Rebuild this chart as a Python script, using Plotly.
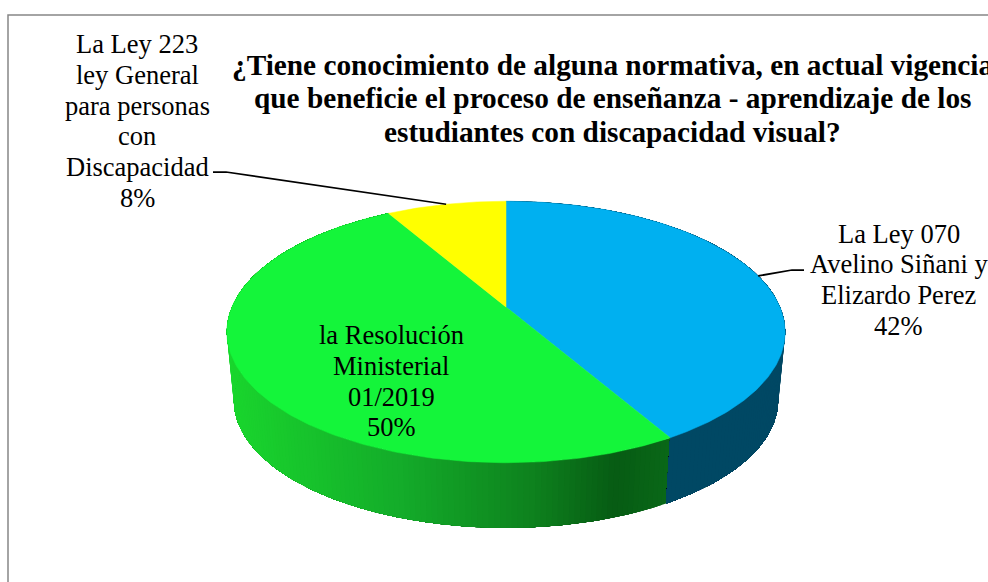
import numpy as np
import plotly.graph_objects as go

# values (slice angles fit 5, 6 and 1 answers out of 12)
slice_labels = [["La Ley 070", "Avelino Siñani y", "Elizardo Perez"],
                ["la Resolución", "Ministerial", "01/2019"],
                ["La Ley 223", "ley General", "para personas", "con", "Discapacidad"]]
slice_counts = [5, 6, 1]
slice_percents = ["42%", "50%", "8%"]
slice_colors = ["#00B0F0", "#14F53A", "#FFFF00"]
title_lines = ["¿Tiene conocimiento de alguna normativa, en actual vigencia",
               "que beneficie el proceso de enseñanza - aprendizaje de los",
               "estudiantes con discapacidad visual?"]

# plotly has no 3d pie, so project a tilted disc by hand (axes are in pixels)
CX, CY = 506, 307      # pie centre on screen
A, B, K = 274, 126, 0.191  # half width, half height, perspective
DEPTH_Y, DEPTH_SCALE = 69, 0.975  # bottom rim relative to the top rim


def rim(theta, bottom=False):
    # theta in degrees, clockwise from 12 o'clock
    t = np.radians(theta)
    u, v = np.sin(t), np.cos(t)
    d = 1 + K * v
    x, y = A * u / d, -B * v / d
    if bottom:
        return CX + DEPTH_SCALE * x, CY + DEPTH_Y + DEPTH_SCALE * y
    return CX + x, CY + y


def mix(stops, x):
    xs = [s[0] for s in stops]
    rgb = [np.interp(x, xs, [s[1][i] for s in stops]) for i in range(3)]
    return "rgb(%d,%d,%d)" % tuple(rgb)


green_wall = [(228, (26, 214, 46)), (400, (20, 172, 42)), (533, (14, 130, 30)),
              (616, (7, 92, 20)), (668, (10, 104, 24))]
blue_wall = [(0, (0, 72, 100)), (988, (0, 72, 100))]
wall_stops = [blue_wall, green_wall, None]

edges = np.cumsum([0] + slice_counts) * 360 / sum(slice_counts)

fig = go.Figure()

# side walls: each piece runs to the end of the slice and the next one paints
# over it, that way no seams show between the shades
for i in [1, 0]:
    for a in np.arange(edges[i], edges[i + 1], 1.0):
        th = np.append(np.arange(a, edges[i + 1], 1.0), edges[i + 1])
        x1, y1 = rim(th)
        x2, y2 = rim(th[::-1], bottom=True)
        colour = mix(wall_stops[i], rim(a + 0.5)[0])
        fig.add_trace(go.Scatter(x=list(x1) + list(x2), y=list(y1) + list(y2),
                                 fill="toself", fillcolor=colour, mode="lines",
                                 line=dict(color=colour, width=0),
                                 hoverinfo="skip", showlegend=False))

# top face
for i in range(len(slice_counts)):
    th = np.linspace(edges[i], edges[i + 1], 200)
    x, y = rim(th)
    fig.add_trace(go.Scatter(x=[CX] + list(x) + [CX], y=[CY] + list(y) + [CY],
                             fill="toself", fillcolor=slice_colors[i], mode="lines",
                             line=dict(color=slice_colors[i], width=0.5),
                             hoverinfo="skip", showlegend=False))

# leader lines end on the middle of their slice
mid_blue = rim((edges[0] + edges[1]) / 2)
mid_yellow = rim((edges[2] + edges[3]) / 2)
fig.add_trace(go.Scatter(x=[804, 792, mid_blue[0]], y=[270, 270, mid_blue[1]], mode="lines",
                         line=dict(color="black", width=1.75), hoverinfo="skip", showlegend=False))
fig.add_trace(go.Scatter(x=[213, 226, mid_yellow[0]], y=[172, 172, mid_yellow[1]], mode="lines",
                         line=dict(color="black", width=1.75), hoverinfo="skip", showlegend=False))

# chart frame, runs off the page on the right and at the bottom
fig.add_trace(go.Scatter(x=[8, 8, 988], y=[582, 15, 15], mode="lines",
                         line=dict(color="#868686", width=1.5), hoverinfo="skip", showlegend=False))


def text_line(text, x, y, size):
    return dict(x=x, y=y, xref="x", yref="y", text=text, showarrow=False,
                xanchor="center", yanchor="middle", align="center",
                font=dict(family="Liberation Serif", size=size, color="black"))


annotations = []
# one annotation per line, the line pitch is tighter than plotly's <br>
label_pos = [(898.5, 233.5), (391, 335), (137, 44)]
for i in range(len(slice_labels)):
    lines = slice_labels[i] + [slice_percents[i]]
    for j, line in enumerate(lines):
        annotations.append(text_line(line, label_pos[i][0], label_pos[i][1] + 30.8 * j, 26.5))
for j, line in enumerate(title_lines):
    annotations.append(text_line(f"<b>{line}</b>", 612.5, 64.5 + 33.5 * j, 29.3))

fig.update_layout(
    width=988, height=582,
    margin=dict(l=0, r=0, t=0, b=0),
    paper_bgcolor="white", plot_bgcolor="white",
    annotations=annotations,
    xaxis=dict(range=[0, 988], visible=False, fixedrange=True),
    yaxis=dict(range=[582, 0], visible=False, fixedrange=True),
)

fig.write_html("out.html", config=dict(displayModeBar=False),
               post_script="document.body.style.margin='0';document.body.style.overflow='hidden';")
